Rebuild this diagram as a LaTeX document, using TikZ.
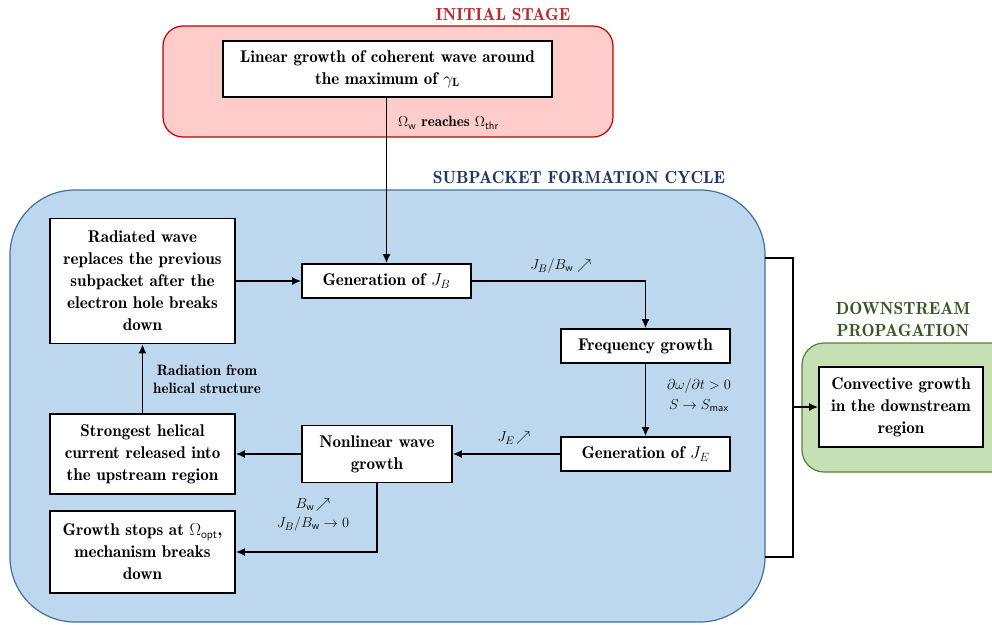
\documentclass[tikz,border=0pt]{standalone}
\usepackage{fontspec}
\setmainfont{Latin Modern Roman Demi}
\usetikzlibrary{arrows.meta}
\definecolor{redfill}{HTML}{FFCCCC}
\definecolor{redline}{HTML}{C00000}
\definecolor{redtitle}{HTML}{C0262D}
\definecolor{bluefill}{HTML}{BDD7EE}
\definecolor{blueline}{HTML}{41719C}
\definecolor{bluetitle}{HTML}{1F3864}
\definecolor{greenfill}{HTML}{C5E0B4}
\definecolor{greenline}{HTML}{548235}
\definecolor{greentitle}{HTML}{385723}
\tikzset{
  stepbox/.style={draw=black, fill=white, line width=1.6pt, inner sep=0pt, align=center,
    font=\fontsize{17}{22}\selectfont},
  arr/.style={line width=1.6pt, -{Latex[length=9pt,width=8pt]}},
  conn/.style={line width=1.6pt},
  lbl/.style={font=\fontsize{15}{18}\selectfont, align=center, inner sep=0pt},
  mlbl/.style={font=\fontsize{15.5}{19}\selectfont, align=center, inner sep=0pt},
  ttl/.style={font=\fontsize{17.5}{22}\selectfont\bfseries, align=center, inner sep=0pt}
}
\begin{document}
\begin{tikzpicture}[x=1pt,y=-1pt]
\useasboundingbox (0,0) rectangle (992,624);
% containers
\draw[fill=redfill, draw=redline, line width=1.2pt, rounded corners=20pt] (163,26) rectangle (613,137);
\draw[fill=bluefill, draw=blueline, line width=1.2pt, rounded corners=65pt] (10,190) rectangle (765,622);
\draw[fill=greenfill, draw=greenline, line width=1.2pt, rounded corners=22pt] (802,343) rectangle (1015,472);
% titles
\node[ttl, text=redtitle] (t1) at (503,14) {INITIAL STAGE};
\node[ttl, text=bluetitle] (t2) at (579,177) {SUBPACKET FORMATION CYCLE};
\node[ttl, text=greentitle] (t3) at (903,319) {DOWNSTREAM\\PROPAGATION};
% boxes
\node[stepbox, minimum width=329pt, minimum height=56pt] (box1) at (387.5,69) {Linear growth of coherent wave around\\the maximum of $\gamma_{\mathrm{L}}$};
\node[stepbox, minimum width=169pt, minimum height=34pt] (jb) at (386.5,281) {Generation of $J_B$};
\node[stepbox, minimum width=185pt, minimum height=125pt] (rad) at (142.5,281) {Radiated wave\\replaces the previous\\subpacket after the\\electron hole breaks\\down};
\node[stepbox, minimum width=169pt, minimum height=34pt] (freq) at (645.5,346) {Frequency growth};
\node[stepbox, minimum width=169pt, minimum height=34pt] (je) at (645.5,454) {Generation of $J_E$};
\node[stepbox, minimum width=150pt, minimum height=57pt] (nl) at (377,454) {Nonlinear wave\\growth};
\node[stepbox, minimum width=185pt, minimum height=80pt] (str) at (142.5,454) {Strongest helical\\current released into\\the upstream region};
\node[stepbox, minimum width=185pt, minimum height=82pt] (gs) at (142.5,552) {Growth stops at $\Omega_{\mathsf{opt}}$,\\mechanism breaks\\down};
\node[stepbox, minimum width=164pt, minimum height=80pt] (conv) at (901,407) {Convective growth\\in the downstream\\region};
% connectors
\draw[arr] (box1.south -| jb.north) -- (jb.north);
\node[mlbl, anchor=west] (l1) at (398,123) {$\Omega_{\mathsf{w}}$ {\fontsize{15}{18}\selectfont reaches} $\Omega_{\mathsf{thr}}$};
\draw[arr] (rad.east) -- (jb.west);
\draw[arr] (jb.east) -| (freq.north);
\node[mlbl] (l2) at (561,266) {$J_B/B_{\mathsf{w}}\nearrow$};
\draw[arr] (freq.south) -- (je.north);
\node[mlbl] (l3) at (699,395) {$\partial\omega/\partial t>0$\\[1pt]$S\rightarrow S_{\mathsf{max}}$};
\draw[arr] (je.west) -- (nl.east);
\node[mlbl] (l4) at (514,438) {$J_E\!\nearrow$};
\draw[arr] (nl.west) -- (str.east);
\draw[arr] (str.north) -- (rad.south);
\node[lbl] (l5) at (207,379) {Radiation from\\helical structure};
\draw[arr] (nl.south) |- (gs.east);
\node[mlbl] (l6) at (313,515) {$B_{\mathsf{w}}\!\nearrow$\\$J_B/B_{\mathsf{w}}\rightarrow 0$};
\coordinate (bt) at (765,258);
\coordinate (bb) at (765,557);
\coordinate (bm) at (793,407);
\draw[conn] (bt) -- (bt -| bm) -- (bb -| bm) -- (bb);
\draw[arr] (bm) -- (conv.west);
\end{tikzpicture}
\end{document}
